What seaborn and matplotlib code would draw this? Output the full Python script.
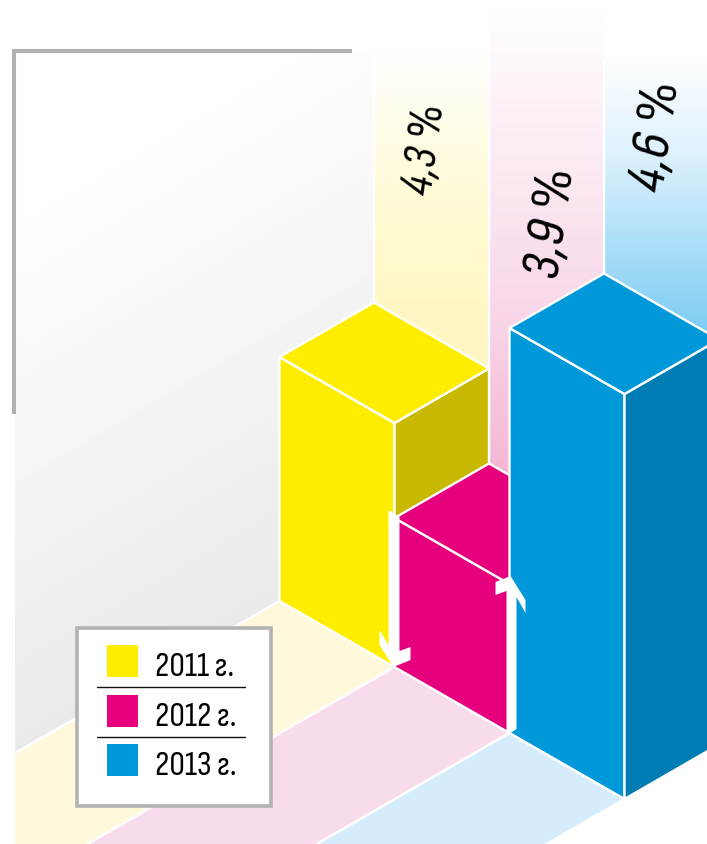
import numpy as np
import matplotlib
matplotlib.use("Agg")
import matplotlib.pyplot as plt
from matplotlib.colors import to_rgb
from matplotlib.patches import Polygon, Rectangle
import seaborn as sns

# ---- data ----
years = ["2011 г.", "2012 г.", "2013 г."]
values = [4.3, 3.9, 4.6]
value_labels = ["4,3 %", "3,9 %", "4,6 %"]
bar_heights = [244, 149, 405]          # drawn heights of the bars

front_colors = ["#ffed00", "#e6007e", "#0098d8"]
side_colors = ["#c8b800", "#c0006a", "#007cb5"]
floor_colors = ["#fff9dc", "#f9dcec", "#d4ecfb"]

# ---- isometric scale ----
ORIGIN = np.array([279.5, 601.0])
U = np.array([115.0, 66.0])
V = np.array([94.5, -54.5])


def project(i, d, h=0.0):
    return ORIGIN + i * U + d * V - np.array([0.0, h])


sns.set_theme(style="white")
NARROW = ["Sofia Sans Condensed", "Liberation Sans", "DejaVu Sans"]
plt.rcParams["font.family"] = NARROW

fig = plt.figure(figsize=(7.07, 8.44), dpi=100, facecolor="white")
ax = fig.add_axes([0, 0, 1, 1])
ax.set_axis_off()
WHITE_LW = 1.7


def gradient_patch(poly, stops, zorder=1):
    """vertical gradient inside a polygon; stops = [(y, colour), ...]"""
    patch = Polygon(poly, closed=True, facecolor="none", edgecolor="none", transform=ax.transData)
    ax.add_patch(patch)
    ys = np.arange(0, 845)
    sy = [s[0] for s in stops]
    cols = np.array([to_rgb(s[1]) for s in stops])
    img = np.stack([np.interp(ys, sy, cols[:, k]) for k in range(3)], axis=-1)[:, None, :]
    im = ax.imshow(img, extent=(0, 707, 844, 0), aspect="auto", zorder=zorder, interpolation="bilinear")
    im.set_clip_path(patch)


# gray back wall, diagonal gradient
gray_poly = [(15, 50), (374, 50), project(0, 1), project(0, 0), (15, project(0, 0)[1] + (project(0, 0)[0] - 15) * 54.5 / 94.5 - 2)]
gx, gy = np.meshgrid(np.arange(0, 708, 4), np.arange(0, 845, 4))
t = np.clip((gx * 0.5 + gy * 0.85 - 177) / (636 - 177), 0, 1.05)
gray_patch = Polygon(gray_poly, closed=True, facecolor="none", edgecolor="none")
ax.add_patch(gray_patch)
gray_im = ax.imshow(1 - 0.082 * t, extent=(0, 707, 844, 0), aspect="auto", cmap="gray", vmin=0, vmax=1, zorder=1,
                    interpolation="bilinear")
gray_im.set_clip_path(gray_patch)

# coloured wall strips
wall_tops = [50, 10, 50]
wall_stops = [
    [(50, "#ffffff"), (150, "#fffce2"), (220, "#fffad2"), (300, "#fff7c5"), (600, "#fff6bd")],
    [(10, "#ffffff"), (100, "#fdf2f8"), (300, "#f9d9ea"), (480, "#f4b5d4"), (700, "#f0a0c8")],
    [(55, "#ffffff"), (150, "#dff2fd"), (330, "#7dcdf4"), (800, "#60c0f0")],
]
for i in range(3):
    a, b = project(i, 1), project(i + 1, 1)
    gradient_patch([(a[0], wall_tops[i]), (b[0], wall_tops[i]), b, a], wall_stops[i], zorder=1)
    if i < 2:
        ax.plot([b[0], b[0]], [60, b[1]], color="white", lw=WHITE_LW, zorder=1.5)
ax.plot([project(0, 1)[0]] * 2, [50, project(0, 1)[1]], color="white", lw=WHITE_LW, zorder=1.5)

# floor strips running towards the viewer
floor_clip = Rectangle((15, 0), 692, 844, transform=ax.transData)
for i in range(3):
    poly = [project(i, 0), project(i + 1, 0), project(i + 1, -4), project(i, -4)]
    p = Polygon(poly, closed=True, facecolor=floor_colors[i], edgecolor="white", lw=WHITE_LW, zorder=2,
                joinstyle="miter")
    ax.add_patch(p)
    p.set_clip_path(floor_clip)

# the bars
for i in range(3):
    h = bar_heights[i]
    z = 3 + i
    faces = [
        ([project(i, 0, h), project(i + 1, 0, h), project(i + 1, 0), project(i, 0)], front_colors[i]),
        ([project(i + 1, 0, h), project(i + 1, 1, h), project(i + 1, 1), project(i + 1, 0)], side_colors[i]),
        ([project(i, 0, h), project(i, 1, h), project(i + 1, 1, h), project(i + 1, 0, h)], front_colors[i]),
    ]
    for poly, col in faces:
        ax.add_patch(Polygon(poly, closed=True, facecolor=col, edgecolor="white", lw=WHITE_LW, zorder=z,
                             joinstyle="round"))

# white trend arrows, anchored to the foot of the bars
down = project(1, 0)
down_pts = [(-6, -157), (5, -150), (5, -16), (16, -20), (16, -7), (-1, 0), (-15, -22), (-15, -37), (-6, -22)]
ax.add_patch(Polygon(down + np.array(down_pts), closed=True, facecolor="white", edgecolor="none", zorder=7))
up = project(2, 0)
up_pts = [(-3, 0), (-3, -142), (-14, -138), (-14, -151), (1, -157), (16, -133), (16, -120), (7, -136), (7, -4),
          (1, 0)]
ax.add_patch(Polygon(up + np.array(up_pts), closed=True, facecolor="white", edgecolor="none", zorder=7))

# gray corner bracket
ax.plot([14.3, 14.3, 352], [414, 50.8, 50.8], color="#b2b2b2", lw=2.9, solid_joinstyle="miter",
        solid_capstyle="butt", zorder=8)

# value labels
label_xy = [(425, 150), (552, 223), (657, 136)]
label_size = [34, 41, 41]
for lab, (lx, ly), fs in zip(value_labels, label_xy, label_size):
    ax.text(lx, ly, lab, rotation=82, rotation_mode="anchor", ha="center", va="center", fontsize=fs,
            style="italic", color="black", zorder=9)

# legend box
ax.add_patch(Rectangle((76.7, 627.5), 194.3, 178.5, facecolor="white", edgecolor="#b3b3b3", lw=2.6, zorder=10))
swatch_y = [661, 711, 760]
sns.scatterplot(x=[122.5] * 3, y=swatch_y, hue=years, palette=front_colors, marker="s", s=530, linewidth=0,
                legend=False, ax=ax, zorder=11)
for yy in [687, 737]:
    ax.plot([97, 245], [yy, yy], color="#111111", lw=1.0, zorder=11)
for yr, by in zip(years, [676, 726, 775]):
    ax.text(155, by, yr, fontsize=25, va="baseline", ha="left", color="black", zorder=11)

ax.set_xlim(0, 707)
ax.set_ylim(844, 0)
fig.savefig("out.png", dpi=100, facecolor="white")
